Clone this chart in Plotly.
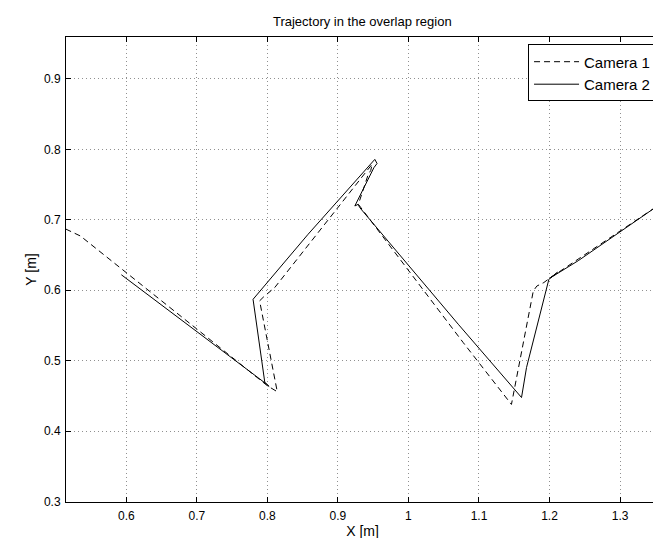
import plotly.graph_objects as go

# Camera 1 (dashed) trajectory
cam1_x = [0.514, 0.535, 0.560, 0.585, 0.610, 0.700, 0.800, 0.814, 0.789, 0.794, 0.8105,
          0.872, 0.9452, 0.9485, 0.9465, 0.943, 0.929, 1.0776, 1.146, 1.1515, 1.177,
          1.182, 1.192, 1.200, 1.3552]
cam1_y = [0.687, 0.677, 0.657, 0.637, 0.618, 0.545, 0.4645, 0.456, 0.585, 0.590, 0.604,
          0.6816, 0.774, 0.779, 0.770, 0.7645, 0.722, 0.5258, 0.438, 0.4667, 0.599,
          0.606, 0.611, 0.617, 0.7211]

# Camera 2 (solid) trajectory
cam2_x = [0.593, 0.7655, 0.7986, 0.8025, 0.7963, 0.7797, 0.8577, 0.9523, 0.9555, 0.951,
          0.924, 0.9287, 0.931, 1.0706, 1.1603, 1.1674, 1.1991, 1.2113, 1.201, 1.2407, 1.3552]
cam2_y = [0.622, 0.4928, 0.467, 0.4635, 0.4695, 0.5872, 0.6795, 0.7858, 0.780, 0.774,
          0.7197, 0.722, 0.7173, 0.5518, 0.4478, 0.4904, 0.6156, 0.6255, 0.6175, 0.642, 0.7211]

x_ticks = [0.6, 0.7, 0.8, 0.9, 1.0, 1.1, 1.2, 1.3]
x_ticktext = ["0.6", "0.7", "0.8", "0.9", "1", "1.1", "1.2", "1.3"]
y_ticks = [0.3, 0.4, 0.5, 0.6, 0.7, 0.8, 0.9]
y_ticktext = ["0.3", "0.4", "0.5", "0.6", "0.7", "0.8", "0.9"]

FONT = "Liberation Sans, Arial, Helvetica, sans-serif"

fig = go.Figure()
fig.add_trace(go.Scatter(x=cam1_x, y=cam1_y, mode="lines", name="Camera 1",
                         line=dict(color="black", width=1, dash="6px,4px")))
fig.add_trace(go.Scatter(x=cam2_x, y=cam2_y, mode="lines", name="Camera 2",
                         line=dict(color="black", width=1)))

axis_common = dict(
    showgrid=True, gridcolor="#909090", griddash="1px,3px", gridwidth=1,
    showline=True, linecolor="black", linewidth=1, mirror="ticks",
    ticks="inside", ticklen=5, tickcolor="black", zeroline=False,
    tickfont=dict(family=FONT, size=12, color="black"),
)

fig.update_layout(
    width=661, height=538,
    margin=dict(l=58, r=10, t=29, b=44),
    paper_bgcolor="white", plot_bgcolor="white",
    title=dict(text="Trajectory in the overlap region", x=0.536, xanchor="center",
               y=0.975, yanchor="middle",
               font=dict(family=FONT, size=13, color="black")),
    xaxis=dict(range=[0.5145, 1.3552], tickvals=x_ticks, ticktext=x_ticktext,
               ticklabelstandoff=3,
               title=dict(text="X [m]", font=dict(family=FONT, size=14, color="black"), standoff=1),
               **axis_common),
    yaxis=dict(range=[0.2995, 0.9595], tickvals=y_ticks, ticktext=y_ticktext,
               ticklabelstandoff=2,
               title=dict(text="Y [m]", font=dict(family=FONT, size=14, color="black"), standoff=4),
               **axis_common),
    legend=dict(x=0.995, y=0.984, xanchor="right", yanchor="top",
                bordercolor="black", borderwidth=1, bgcolor="white",
                font=dict(family=FONT, size=15, color="black"),
                tracegroupgap=0, itemwidth=45),
    showlegend=True,
)

fig.write_html("out.html")
